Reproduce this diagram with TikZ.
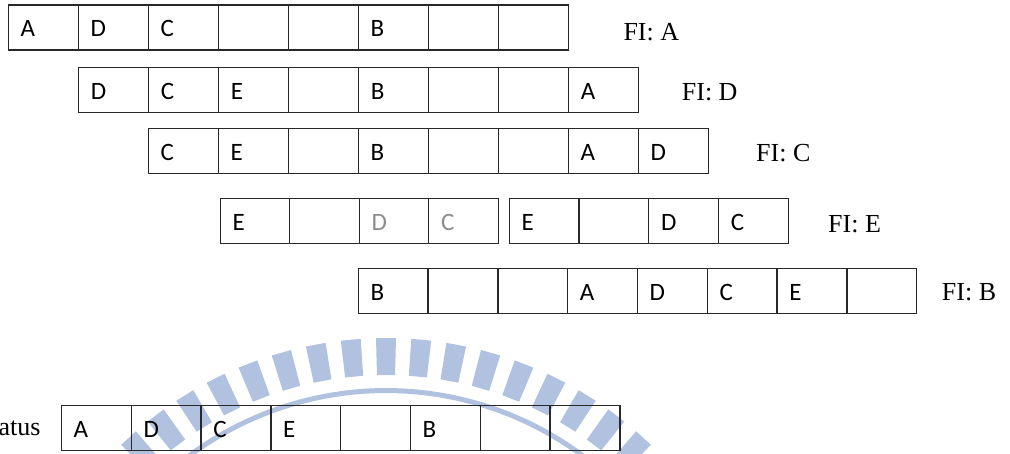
\documentclass[tikz,border=0pt]{standalone}
\usepackage{fontspec}
\setmainfont{Liberation Serif}
\newfontfamily\cellfont{Carlito}
\usetikzlibrary{calc}
\definecolor{wm}{RGB}{176,194,224}
\definecolor{ln}{RGB}{40,40,40}
\definecolor{fade}{RGB}{140,140,140}
\tikzset{
  cell/.style={draw=ln, line width=1.3pt, minimum width=#1, minimum height=45pt,
               inner sep=0pt, outer sep=0pt, anchor=north west},
  cell/.default=70pt,
  letter/.style={font=\cellfont\fontsize{25}{30}\selectfont, anchor=base west, inner sep=0pt},
  faded/.style={letter, text=fade},
  filabel/.style={font=\fontsize{26}{30}\selectfont, anchor=base west, inner sep=0pt},
}
\begin{document}
\begin{tikzpicture}[x=1pt,y=-1pt]
\useasboundingbox (0,0) rectangle (1010,453);
\clip (0,0) rectangle (1010,453);

% watermark (light blue logo)
\begin{scope}[shift={(386,720)}]
  \foreach \k in {-9,...,9} {
    \pgfmathsetmacro\a{270+5.3*\k}
    \fill[wm] ({\a-1.5}:345) -- ({\a-1.5}:382) -- ({\a+1.5}:382) -- ({\a+1.5}:345) -- cycle;
  }
  \fill[wm] plot[domain=222:318, samples=60] (\x:332) -- plot[domain=318:222, samples=60] (\x:327) -- cycle;
\end{scope}

% row 1
\foreach \t [count=\i] in {A,D,C,{},{},B,{},{}} {
  \node[cell] (ra\i) at ({8.3+70*(\i-1)},5) {};
  \node[letter] (ta\i) at ($(ra\i.west)+(12,9.4)$) {\t};
}
\node[filabel] (fiA) at (623.3,40) {FI: A};

% row 2
\foreach \t [count=\i] in {D,C,E,{},B,{},{},A} {
  \node[cell] (rb\i) at ({78.7+70*(\i-1)},67.3) {};
  \node[letter] (tb\i) at ($(rb\i.west)+(12,9.4)$) {\t};
}
\node[filabel] (fiD) at (681.7,100) {FI: D};

% row 3
\foreach \t [count=\i] in {C,E,{},B,{},{},A,D} {
  \node[cell] (rc\i) at ({148.3+70*(\i-1)},128.3) {};
  \node[letter] (tc\i) at ($(rc\i.west)+(12,9.4)$) {\t};
}
\node[filabel] (fiC) at (756,161.7) {FI: C};

% row 4, first box
\foreach \t [count=\i] in {E,{}} {
  \node[cell=69.5pt] (rd\i) at ({220.3+69.5*(\i-1)},198.3) {};
  \node[letter] (td\i) at ($(rd\i.west)+(12,9.4)$) {\t};
}
\foreach \t [count=\i from 3] in {D,C} {
  \node[cell=69.5pt] (rd\i) at ({220.3+69.5*(\i-1)},198.3) {};
  \node[faded] (td\i) at ($(rd\i.west)+(12,9.4)$) {\t};
}
% row 4, second box
\foreach \t [count=\i] in {E,{},D,C} {
  \node[cell=69.75pt] (re\i) at ({509.3+69.75*(\i-1)},198.3) {};
  \node[letter] (te\i) at ($(re\i.west)+(12,9.4)$) {\t};
}
\node[filabel] (fiE) at (828,232) {FI: E};

% row 5
\foreach \t [count=\i] in {B,{},{},A,D,C,E,{}} {
  \node[cell=69.8pt] (rf\i) at ({358.3+69.8*(\i-1)},268.3) {};
  \node[letter] (tf\i) at ($(rf\i.west)+(12,9.4)$) {\t};
}
\node[filabel] (fiB) at (941.7,300) {FI: B};

% status row
\node[filabel, anchor=base east] (status) at (40.7,435.7) {atus};
\foreach \t [count=\i] in {A,D,C,E,{},B,{},{}} {
  \node[cell=69.8pt] (rg\i) at ({61.5+69.8*(\i-1)},405.7) {};
  \node[letter] (tg\i) at ($(rg\i.west)+(12,9.4)$) {\t};
}
\end{tikzpicture}
\end{document}
